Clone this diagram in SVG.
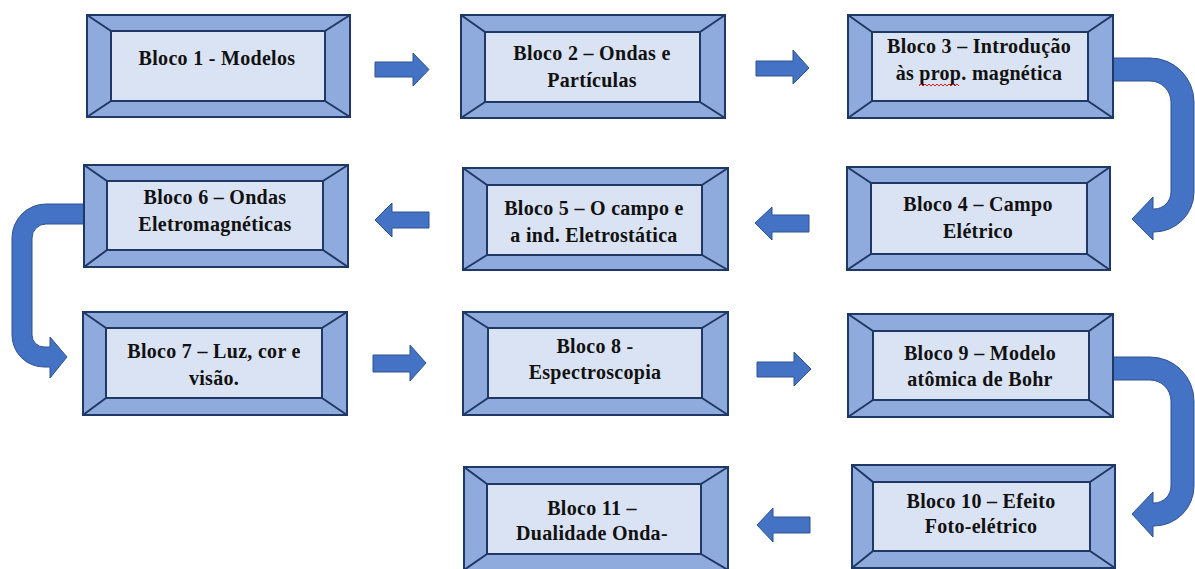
<svg xmlns="http://www.w3.org/2000/svg" width="1195" height="569" viewBox="0 0 1195 569">
<style>
.outer{fill:#8FAADC;stroke:#1F3864;stroke-width:2}
.inner{fill:#DAE3F3;stroke:#1F3864;stroke-width:2}
.bev{stroke:#1F3864;stroke-width:2;fill:none}
.arr{fill:#4472C4;stroke:#2F528F;stroke-width:1}
text{font-family:"Liberation Serif","Times New Roman",serif;font-weight:bold;font-size:20px;letter-spacing:0.3px;fill:#111;text-anchor:middle}
</style>
<rect width="1195" height="569" fill="#fff"/>
<g id="connectors">
<polygon class="arr" points="375,62 413,62 413,53 429,69.5 413,86 413,77 375,77"/>
<polygon class="arr" points="756,61 793,61 793,50 809,68 793,84 793,76 756,76"/>
<polygon class="arr" points="373,355 410,355 410,345 426,363 410,381 410,372 373,372"/>
<polygon class="arr" points="757,362 794,362 794,352 811,369 794,386 794,377 757,377"/>
<polygon class="arr" points="429,212 392,212 392,203 375,220 392,237 392,228 429,228"/>
<polygon class="arr" points="809,215 772,215 772,207 755,223 772,240 772,232 809,232"/>
<polygon class="arr" points="810,517 773,517 773,508 757,525 773,542 773,533 810,533"/>
<path class="arr" d="M1113,58 L1150,58 A44,44 0 0 1 1194,102 L1194,192 A40,40 0 0 1 1154,232 L1153,232 L1153,240 L1132,219 L1153,197 L1153,209 L1154,209 A17,17 0 0 0 1171,192 L1171,102 A21,21 0 0 0 1150,81 L1113,81 Z"/>
<path class="arr" d="M1113,357 L1150,357 A44,44 0 0 1 1194,401 L1194,486 A40,40 0 0 1 1154,526 L1153,526 L1153,537 L1132,514 L1153,492 L1153,503 L1154,503 A17,17 0 0 0 1171,486 L1171,401 A21,21 0 0 0 1150,380 L1113,380 Z"/>
<path class="arr" d="M84,204 L46,204 A34,34 0 0 0 12,238 L12,335 A32,32 0 0 0 44,367 L50,367 L50,378 L67,357 L50,337 L50,347 L44,347 A12,12 0 0 1 32,335 L32,238 A14,14 0 0 1 46,224 L84,224 Z"/>
</g>
<g id="bloco1">
<rect class="outer" x="87" y="15" width="263" height="102"/>
<rect class="inner" x="111" y="31" width="214" height="70"/>
<path class="bev" d="M87,15 L111,31 M350,15 L325,31 M87,117 L111,101 M350,117 L325,101"/>
<text x="217" y="65">Bloco 1 - Modelos</text>
</g>
<g id="bloco2">
<rect class="outer" x="461" y="15" width="264" height="103"/>
<rect class="inner" x="485" y="32" width="215" height="70"/>
<path class="bev" d="M461,15 L485,32 M725,15 L700,32 M461,118 L485,102 M725,118 L700,102"/>
<text x="592" y="60">Bloco 2 – Ondas e</text>
<text x="592" y="87">Partículas</text>
</g>
<g id="bloco3">
<rect class="outer" x="848" y="15" width="265" height="103"/>
<rect class="inner" x="872" y="32" width="216" height="69"/>
<path class="bev" d="M848,15 L872,32 M1113,15 L1088,32 M848,118 L872,101 M1113,118 L1088,101"/>
<text x="979" y="53">Bloco 3 – Introdução</text>
<text x="979" y="80">às prop. magnética</text>
<path d="M919,86 l2,-2 l2,2 l2,-2 l2,2 l2,-2 l2,2 l2,-2 l2,2 l2,-2 l2,2 l2,-2 l2,2 l2,-2 l2,2 l2,-2 l2,2 l2,-2 l2,2 l2,-2 l2,2" fill="none" stroke="#E0201A" stroke-width="1"/>
</g>
<g id="bloco4">
<rect class="outer" x="847" y="167" width="263" height="103"/>
<rect class="inner" x="871" y="183" width="216" height="71"/>
<path class="bev" d="M847,167 L871,183 M1110,167 L1087,183 M847,270 L871,254 M1110,270 L1087,254"/>
<text x="978" y="211">Bloco 4 – Campo</text>
<text x="978" y="238">Elétrico</text>
</g>
<g id="bloco5">
<rect class="outer" x="463" y="168" width="265" height="102"/>
<rect class="inner" x="487" y="185" width="215" height="70"/>
<path class="bev" d="M463,168 L487,185 M728,168 L702,185 M463,270 L487,255 M728,270 L702,255"/>
<text x="594" y="215">Bloco 5 – O campo e</text>
<text x="594" y="242">a ind. Eletrostática</text>
</g>
<g id="bloco6">
<rect class="outer" x="84" y="165" width="264" height="102"/>
<rect class="inner" x="107" y="181" width="216" height="69"/>
<path class="bev" d="M84,165 L107,181 M348,165 L323,181 M84,267 L107,250 M348,267 L323,250"/>
<text x="215" y="204">Bloco 6 – Ondas</text>
<text x="215" y="231">Eletromagnéticas</text>
</g>
<g id="bloco7">
<rect class="outer" x="83" y="312" width="264" height="103"/>
<rect class="inner" x="106" y="328" width="216" height="70"/>
<path class="bev" d="M83,312 L106,328 M347,312 L322,328 M83,415 L106,398 M347,415 L322,398"/>
<text x="214" y="358">Bloco 7 – Luz, cor e</text>
<text x="214" y="385">visão.</text>
</g>
<g id="bloco8">
<rect class="outer" x="463" y="312" width="265" height="103"/>
<rect class="inner" x="488" y="328" width="214" height="70"/>
<path class="bev" d="M463,312 L488,328 M728,312 L702,328 M463,415 L488,398 M728,415 L702,398"/>
<text x="595" y="353">Bloco 8 -</text>
<text x="595" y="379">Espectroscopia</text>
</g>
<g id="bloco9">
<rect class="outer" x="848" y="314" width="265" height="103"/>
<rect class="inner" x="873" y="331" width="216" height="69"/>
<path class="bev" d="M848,314 L873,331 M1113,314 L1089,331 M848,417 L873,400 M1113,417 L1089,400"/>
<text x="980" y="360">Bloco 9 – Modelo</text>
<text x="980" y="386">atômica de Bohr</text>
</g>
<g id="bloco10">
<rect class="outer" x="852" y="465" width="263" height="103"/>
<rect class="inner" x="873" y="482" width="217" height="69"/>
<path class="bev" d="M852,465 L873,482 M1115,465 L1090,482 M852,568 L873,551 M1115,568 L1090,551"/>
<text x="981" y="508">Bloco 10 – Efeito</text>
<text x="981" y="533">Foto-elétrico</text>
</g>
<g id="bloco11">
<rect class="outer" x="464" y="467" width="264" height="103"/>
<rect class="inner" x="487" y="484" width="214" height="70"/>
<path class="bev" d="M464,467 L487,484 M728,467 L701,484 M464,570 L487,554 M728,570 L701,554"/>
<text x="592" y="515">Bloco 11 –</text>
<text x="592" y="540">Dualidade Onda-</text>
</g>
</svg>
